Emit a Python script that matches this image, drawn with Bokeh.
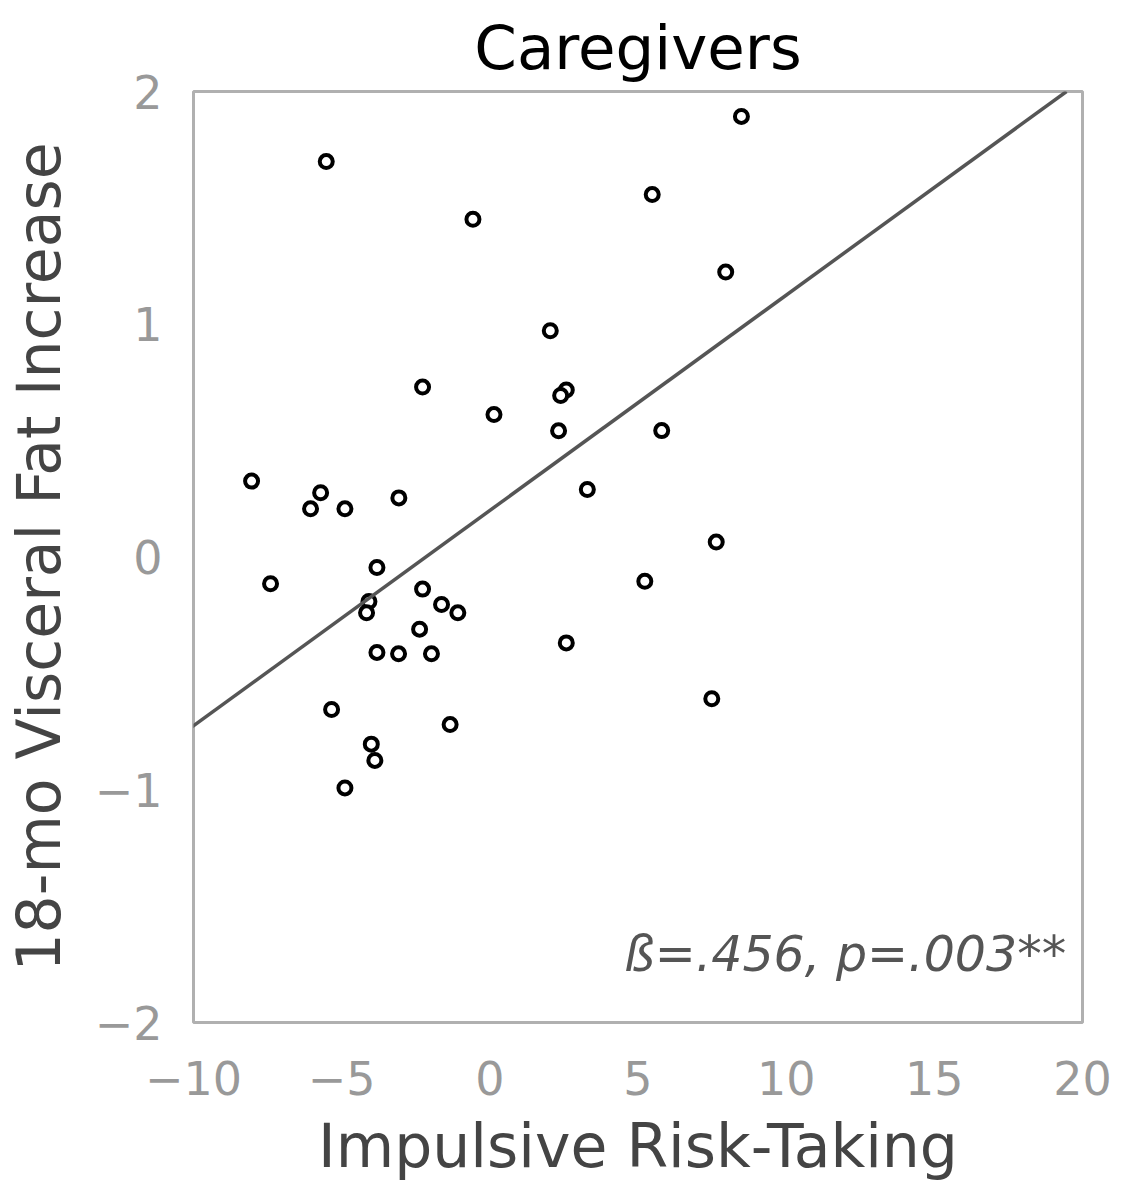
from bokeh.plotting import figure
from bokeh.models import Label, Slope, Range1d, FixedTicker
from bokeh.embed import file_html
from bokeh.resources import INLINE

# Data
risk_taking = [-5.52, -0.57, 2.04, -2.27, 2.58, 2.39, 0.14, 2.32, -8.04, -5.71,
               -6.05, -4.89, -3.07, 3.29, 8.49, 5.48, 7.96, 5.80, 7.64, -3.81,
               -7.40, -2.27, -4.08, -4.16, -1.63, -1.08, -2.37, -3.81, -3.08, -1.97,
               2.58, -5.34, -1.34, -4.00, -3.88, -4.89, 5.23, 7.49]
fat_increase = [1.699, 1.451, 0.972, 0.730, 0.718, 0.694, 0.612, 0.542, 0.326, 0.276,
                0.207, 0.207, 0.254, 0.290, 1.893, 1.557, 1.224, 0.543, 0.064, -0.045,
                -0.115, -0.138, -0.191, -0.240, -0.204, -0.240, -0.310, -0.410, -0.416, -0.416,
                -0.369, -0.655, -0.720, -0.804, -0.874, -0.992, -0.104, -0.609]
fit_slope = 0.0925
fit_intercept = 0.20
x_ticks = [-10, -5, 0, 5, 10, 15, 20]
y_ticks = [-2, -1, 0, 1, 2]
title_text = "Caregivers"
x_label = "Impulsive Risk-Taking"
y_label = "18-mo Visceral Fat Increase"
stat_text = "ß=.456, p=.003**"

FONT = "DejaVu Sans"

p = figure(frame_width=889, frame_height=931,
           min_border_left=187, min_border_top=83, min_border_right=30, min_border_bottom=150,
           x_range=Range1d(-10, 20), y_range=Range1d(-2, 2),
           output_backend="svg", toolbar_location=None, title=title_text)

p.background_fill_color = "white"
p.border_fill_color = "white"
p.outline_line_color = "#b0b0b0"
p.outline_line_width = 3

p.title.text_font = FONT
p.title.text_font_size = "61px"
p.title.text_font_style = "normal"
p.title.text_color = "black"
p.title.align = "center"
p.title.standoff = 18

p.xgrid.visible = False
p.ygrid.visible = False

for ax in (p.xaxis[0], p.yaxis[0]):
    ax.axis_line_color = None
    ax.major_tick_line_color = None
    ax.minor_tick_line_color = None
    ax.major_tick_out = 0
    ax.major_tick_in = 0
    ax.major_label_text_font = FONT
    ax.major_label_text_font_size = "46px"
    ax.major_label_text_color = "#999999"
    ax.axis_label_text_font = FONT
    ax.axis_label_text_font_size = "60px"
    ax.axis_label_text_font_style = "normal"
    ax.axis_label_text_color = "#444444"

p.xaxis.ticker = FixedTicker(ticks=x_ticks)
p.yaxis.ticker = FixedTicker(ticks=y_ticks)
p.xaxis.major_label_overrides = {t: (str(t).replace("-", "\u2212")) for t in x_ticks}
p.yaxis.major_label_overrides = {t: (str(t).replace("-", "\u2212")) for t in y_ticks}
p.xaxis.major_label_standoff = 38
p.yaxis.major_label_standoff = 31
p.xaxis.axis_label = x_label
p.yaxis.axis_label = y_label
p.xaxis.axis_label_standoff = 13
p.yaxis.axis_label_standoff = 18

p.add_layout(Slope(gradient=fit_slope, y_intercept=fit_intercept,
                   line_color="#555555", line_width=3.5))

p.scatter(risk_taking, fat_increase, marker="circle", size=13, fill_color="white",
          line_color="black", line_width=4)

p.add_layout(Label(x=19.45, y=-1.707, text=stat_text, text_align="right",
                   text_baseline="alphabetic", text_font=FONT, text_font_size="49px",
                   text_font_style="italic", text_color="#555555"))

open("out.html", "w").write(file_html(p, INLINE))
